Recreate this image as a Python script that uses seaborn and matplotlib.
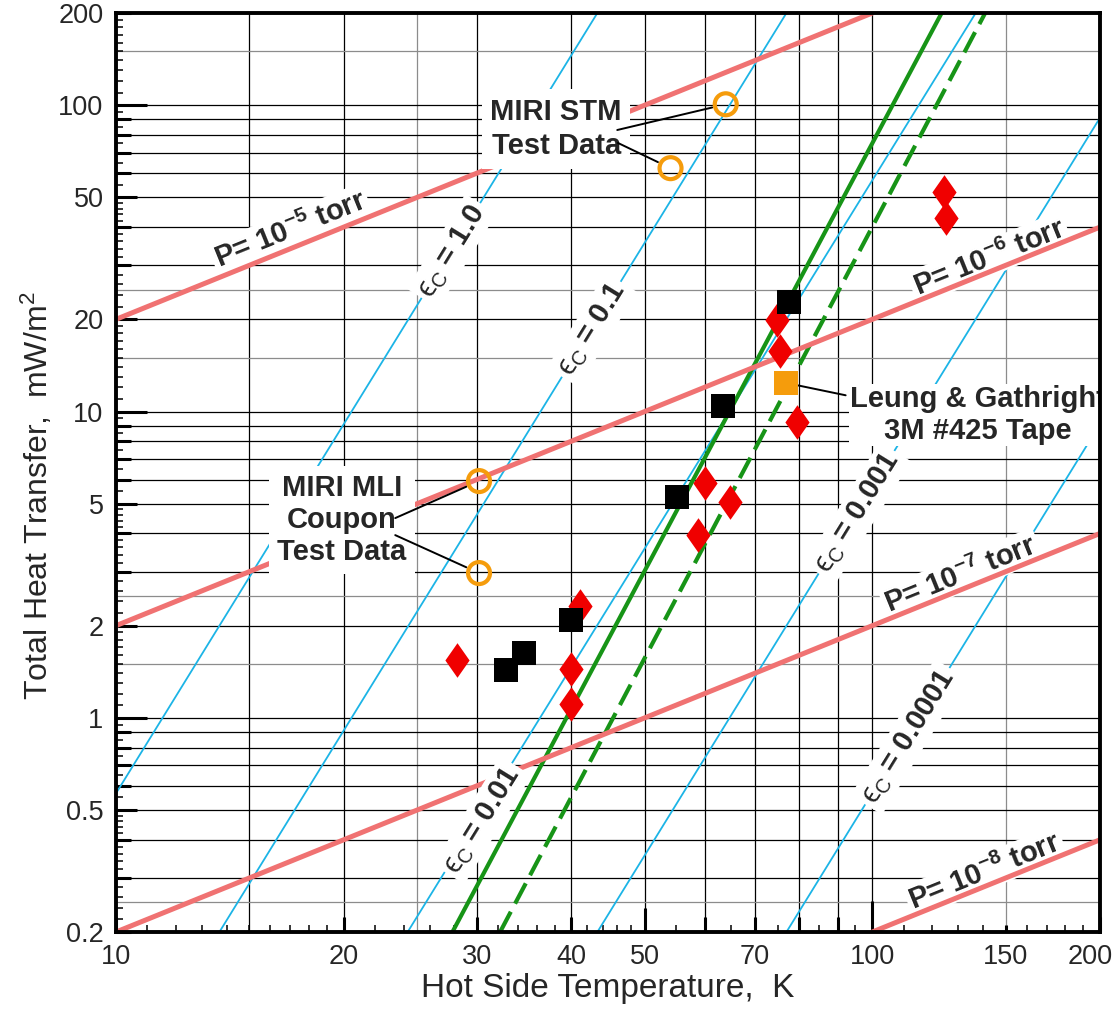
import numpy as np
import pandas as pd
import matplotlib
matplotlib.use("Agg")
import matplotlib.pyplot as plt
import matplotlib.ticker as mticker
import matplotlib.transforms as mtransforms
import seaborn as sns

# ---- values ----
# gas conduction lines (chamber pressure, torr exponent)
p_exp = ["-5", "-6", "-7", "-8"]
p_T = [[10, 100], [10, 200], [10, 200], [100, 200]]
p_q = [[20, 200], [2, 40], [0.2, 4], [0.2, 0.4]]
p_lab_T = [17.0, 142.8, 131.0, 141.0]
p_lab_q = [39.2, 31.7, 2.93, 0.314]

# radiation lines (effective emissivity)
eps_txt = ["1.0", "0.1", "0.01", "0.001", "0.0001"]
eps_T = [[10, 43.3], [13.7, 77], [24.3, 137], [43.3, 200], [77, 200]]
eps_q = [[0.567, 200], [0.2, 200], [0.2, 200], [0.2, 91], [0.2, 9.1]]
eps_lab_T = [27.8, 42.6, 30.5, 95.6, 111.6]
eps_lab_q = [33.4, 18.5, 0.464, 4.67, 0.867]

# green fit lines: solid, dashed
fit_T = [[27.85, 123.5], [32.2, 141]]
fit_q = [[0.2, 200], [0.2, 200]]

# test points
red_T = [28.2, 40.0, 40.0, 41.1, 58.9, 60.0, 64.9, 74.8, 75.4, 79.4, 124.3, 125.2]
red_q = [1.55, 1.44, 1.11, 2.31, 3.95, 5.83, 5.08, 19.9, 15.8, 9.27, 52.0, 42.8]
black_T = [32.8, 34.6, 40.0, 55.1, 63.5, 77.7]
black_q = [1.43, 1.63, 2.08, 5.28, 10.4, 22.8]
stm_T = [64.0, 54.1]
stm_q = [100.7, 62.3]
mli_T = [30.2, 30.2]
mli_q = [5.93, 2.97]
leung_T = [76.9]
leung_q = [12.4]

x_labels = [10, 20, 30, 40, 50, 70, 100, 150, 200]
y_labels = [0.2, 0.5, 1, 2, 5, 10, 20, 50, 100, 200]
x_major = [10, 20, 30, 40, 50, 60, 70, 80, 90, 100, 150, 200]
grid_x_dark = [15, 20, 30, 40, 50, 60, 70, 80, 90, 100]
grid_x_light = [25, 150]
grid_y_dark = [0.3, 0.4, 0.5, 0.6, 0.7, 0.8, 0.9, 1, 2, 3, 4, 5, 6, 7, 8, 9,
               10, 20, 30, 40, 50, 60, 70, 80, 90, 100]
grid_y_light = [0.25, 1.5, 2.5, 15, 25, 150]
y_major = [0.2] + grid_y_dark + [200]

PINK = "#f07272"
CYAN = "#1cb4e6"
GREEN = "#179417"
RED = "#f00000"
ORANGE = "#f59c0c"

sns.set_style("white")
plt.rcParams["font.family"] = ["Liberation Sans", "DejaVu Sans"]
plt.rcParams["mathtext.fontset"] = "custom"
plt.rcParams["mathtext.rm"] = "Liberation Sans"
plt.rcParams["mathtext.it"] = "Liberation Sans:italic"
plt.rcParams["mathtext.bf"] = "Liberation Sans:bold"
plt.rcParams["mathtext.fallback"] = "stixsans"

fig = plt.figure(figsize=(11.16, 10.21), dpi=100)
ax = fig.add_axes([0.10394, 0.08717, 0.88172, 0.90010])
ax.set_xscale("log")
ax.set_yscale("log")
ax.set_xlim(10, 200)
ax.set_ylim(0.2, 200)

for g in grid_x_dark:
    ax.axvline(g, color="black", lw=0.9, zorder=0.5)
for g in grid_x_light:
    ax.axvline(g, color="#8c8c8c", lw=0.9, zorder=0.5)
for g in grid_y_dark:
    ax.axhline(g, color="black", lw=0.9, zorder=0.5)
for g in grid_y_light:
    ax.axhline(g, color="#8c8c8c", lw=0.9, zorder=0.5)

for T, q in zip(eps_T, eps_q):
    sns.lineplot(x=T, y=q, ax=ax, color=CYAN, lw=1.3, zorder=2)
for T, q in zip(p_T, p_q):
    sns.lineplot(x=T, y=q, ax=ax, color=PINK, lw=3.6, zorder=4.5)
for i, (T, q) in enumerate(zip(fit_T, fit_q)):
    sns.lineplot(x=T, y=q, ax=ax, color=GREEN, lw=3.0, zorder=3.5)
    if i == 1:
        ax.lines[-1].set_dashes([5.5, 2.2])

ax.set_xlim(10, 200)
ax.set_ylim(0.2, 200)


def angle(T, q):
    p = ax.transData.transform(np.column_stack([T, q]))
    return np.degrees(np.arctan2(p[1, 1] - p[0, 1], p[1, 0] - p[0, 0]))


box = dict(facecolor="white", edgecolor="none", pad=2)
for e, T, q, lt, lq in zip(p_exp, p_T, p_q, p_lab_T, p_lab_q):
    ax.text(lt, lq, "P= 10$^{\\mathbf{" + e + "}}$ torr", rotation=angle(T, q),
            rotation_mode="anchor", ha="center", va="center", fontsize=21,
            fontweight="bold", bbox=box, zorder=4)

for e, T, q, lt, lq in zip(eps_txt, eps_T, eps_q, eps_lab_T, eps_lab_q):
    ax.text(lt, lq, "$\\mathrm{\u03f5}_\\mathrm{C}$ = " + e, rotation=angle(T, q),
            rotation_mode="anchor", ha="center", va="center", fontsize=21,
            fontweight="bold", bbox=dict(facecolor="white", edgecolor="none", pad=3),
            zorder=5)

lbl_box = dict(facecolor="white", edgecolor="none", pad=6)
ax.text(38.2, 83.7, "MIRI STM\nTest Data", ha="center", va="center", fontsize=21,
        fontweight="bold", linespacing=1.3, bbox=lbl_box, zorder=5)
ax.text(19.9, 4.43, "MIRI MLI\nCoupon\nTest Data", ha="center", va="center",
        fontsize=21, fontweight="bold", linespacing=1.17, bbox=lbl_box, zorder=5)
ax.text(138, 9.75, "Leung & Gathright\n3M #425 Tape", ha="center", va="center",
        fontsize=21, fontweight="bold", linespacing=1.15,
        bbox=dict(facecolor="white", edgecolor="none", pad=1), zorder=5, clip_on=True)

leader = dict(arrowstyle="-", color="black", lw=1.4, shrinkA=0, shrinkB=10)
ax.annotate("", xy=(stm_T[0], stm_q[0]), xytext=(46.0, 83.0), arrowprops=leader, zorder=5.5)
ax.annotate("", xy=(stm_T[1], stm_q[1]), xytext=(46.1, 75.3), arrowprops=leader, zorder=5.5)
ax.annotate("", xy=(mli_T[0], mli_q[0]), xytext=(23.4, 4.49), arrowprops=leader, zorder=5.5)
ax.annotate("", xy=(mli_T[1], mli_q[1]), xytext=(23.4, 3.95), arrowprops=leader, zorder=5.5)
ax.annotate("", xy=(leung_T[0], leung_q[0]), xytext=(92.2, 11.3),
            arrowprops=dict(leader, shrinkB=0), zorder=5.5)

diamond = [(0, 1), (0.7, 0), (0, -1), (-0.7, 0)]
sns.scatterplot(x=red_T, y=red_q, ax=ax, marker=diamond, s=620, color=RED,
                linewidth=0, zorder=6)
sns.scatterplot(x=black_T, y=black_q, ax=ax, marker="s", s=300, color="black",
                linewidth=0, zorder=6)
sns.scatterplot(x=leung_T, y=leung_q, ax=ax, marker="s", s=300, color=ORANGE,
                linewidth=0, zorder=6)
sns.scatterplot(x=stm_T + mli_T, y=stm_q + mli_q, ax=ax, marker="o", s=250,
                facecolor="none", edgecolor=ORANGE, linewidth=3.0, zorder=6)

ax.set_xlim(10, 200)
ax.set_ylim(0.2, 200)

ax.xaxis.set_major_locator(mticker.FixedLocator(x_major))
ax.xaxis.set_major_formatter(mticker.FixedFormatter(
    [str(v) if v in x_labels else "" for v in x_major]))
ax.yaxis.set_major_locator(mticker.FixedLocator(y_major))
ax.yaxis.set_major_formatter(mticker.FixedFormatter(
    [f"{v:g}" if v in y_labels else "" for v in y_major]))
minor = []
for d in [0.1, 1, 10, 100]:
    minor += [d * v for v in np.r_[1.1:2.0:0.1, 2.2:5.0:0.2, 5.5:10:0.5]]
ax.xaxis.set_minor_locator(mticker.FixedLocator([m for m in minor if 10 < m < 200]))
ax.yaxis.set_minor_locator(mticker.FixedLocator([m for m in minor if 0.2 < m < 200]))
ax.xaxis.set_minor_formatter(mticker.NullFormatter())
ax.yaxis.set_minor_formatter(mticker.NullFormatter())
ax.tick_params(which="major", direction="in", length=11, width=2.2, labelsize=19.5, pad=9,
               bottom=True, left=True, top=False, right=False, color="black")
ax.tick_params(which="minor", direction="in", length=5, width=1.1,
               bottom=True, left=True, top=False, right=False, color="black")

# longer marks on some major ticks, as in the original axes
for v, t in zip(x_major, ax.xaxis.get_major_ticks()):
    if v == 100:
        t.tick1line.set_markersize(22)
    elif v == 50:
        t.tick1line.set_markersize(17)
    elif v == 150:
        t.tick1line.set_markersize(5)
for v, t in zip(y_major, ax.yaxis.get_major_ticks()):
    if v in (1, 10, 100):
        t.tick1line.set_markersize(22)
    elif v in (0.5, 2, 5, 20, 50):
        t.tick1line.set_markersize(15)
# keep the "200" label inside the figure
last = ax.xaxis.get_major_ticks()[-1].label1
last.set_transform(last.get_transform() +
                   mtransforms.ScaledTranslation(-10 / 100, 0, fig.dpi_scale_trans))

for s in ax.spines.values():
    s.set_visible(True)
    s.set_linewidth(2.8)
    s.set_color("black")
    s.set_zorder(7)

ax.set_xlabel("Hot Side Temperature,  K", fontsize=24)
ax.set_ylabel("Total Heat Transfer,  mW/m$^2$", fontsize=23)
ax.xaxis.set_label_coords(0.5, -0.045)
ax.yaxis.set_label_coords(-0.062, 0.475)

fig.savefig("out.png", dpi=100)
